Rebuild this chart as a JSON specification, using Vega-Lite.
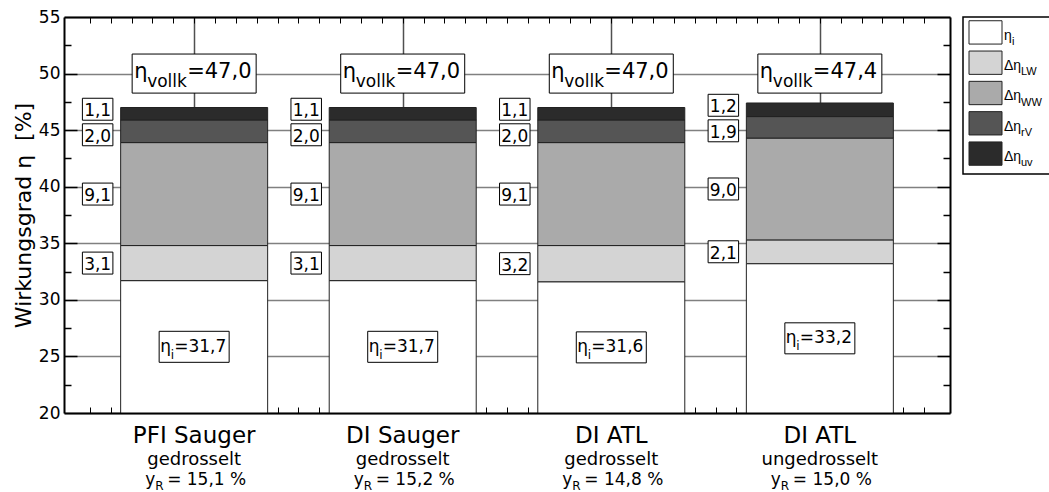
{
  "$schema": "https://vega.github.io/schema/vega-lite/v6.json",
  "background": "white",
  "padding": {"left": 12, "top": 8, "right": 0, "bottom": 0},
  "bounds": "flush",
  "spacing": 13,
  "config": {"font": "DejaVu Sans", "text": {"color": "#000"}},
  "datasets": {
    "segs": [
      {"pos": 1, "k": 1, "comp": "ηi", "value": 31.7, "lab": "31,7"},
      {"pos": 1, "k": 2, "comp": "ΔηLW", "value": 3.1, "lab": "3,1"},
      {"pos": 1, "k": 3, "comp": "ΔηWW", "value": 9.1, "lab": "9,1"},
      {"pos": 1, "k": 4, "comp": "ΔηrV", "value": 2.0, "lab": "2,0"},
      {"pos": 1, "k": 5, "comp": "Δηuv", "value": 1.1, "lab": "1,1"},
      {"pos": 2, "k": 1, "comp": "ηi", "value": 31.7, "lab": "31,7"},
      {"pos": 2, "k": 2, "comp": "ΔηLW", "value": 3.1, "lab": "3,1"},
      {"pos": 2, "k": 3, "comp": "ΔηWW", "value": 9.1, "lab": "9,1"},
      {"pos": 2, "k": 4, "comp": "ΔηrV", "value": 2.0, "lab": "2,0"},
      {"pos": 2, "k": 5, "comp": "Δηuv", "value": 1.1, "lab": "1,1"},
      {"pos": 3, "k": 1, "comp": "ηi", "value": 31.6, "lab": "31,6"},
      {"pos": 3, "k": 2, "comp": "ΔηLW", "value": 3.2, "lab": "3,2"},
      {"pos": 3, "k": 3, "comp": "ΔηWW", "value": 9.1, "lab": "9,1"},
      {"pos": 3, "k": 4, "comp": "ΔηrV", "value": 2.0, "lab": "2,0"},
      {"pos": 3, "k": 5, "comp": "Δηuv", "value": 1.1, "lab": "1,1"},
      {"pos": 4, "k": 1, "comp": "ηi", "value": 33.2, "lab": "33,2"},
      {"pos": 4, "k": 2, "comp": "ΔηLW", "value": 2.1, "lab": "2,1"},
      {"pos": 4, "k": 3, "comp": "ΔηWW", "value": 9.0, "lab": "9,0"},
      {"pos": 4, "k": 4, "comp": "ΔηrV", "value": 1.9, "lab": "1,9"},
      {"pos": 4, "k": 5, "comp": "Δηuv", "value": 1.2, "lab": "1,2"}
    ],
    "cats": [
      {"pos": 1, "name": "PFI Sauger", "sub": "gedrosselt", "yr": "15,1", "tot": "47,0"},
      {"pos": 2, "name": "DI Sauger", "sub": "gedrosselt", "yr": "15,2", "tot": "47,0"},
      {"pos": 3, "name": "DI ATL", "sub": "gedrosselt", "yr": "14,8", "tot": "47,0"},
      {"pos": 4, "name": "DI ATL", "sub": "ungedrosselt", "yr": "15,0", "tot": "47,4"}
    ],
    "leg": [
      {"k": 1, "comp": "ηi", "main": "η", "sub": "i"},
      {"k": 2, "comp": "ΔηLW", "main": "Δη", "sub": "LW"},
      {"k": 3, "comp": "ΔηWW", "main": "Δη", "sub": "WW"},
      {"k": 4, "comp": "ΔηrV", "main": "Δη", "sub": "rV"},
      {"k": 5, "comp": "Δηuv", "main": "Δη", "sub": "uv"}
    ]
  },
  "hconcat": [
    {
      "width": 886,
      "height": 396,
      "view": {"stroke": null},
      "resolve": {"axis": {"x": "independent", "y": "independent"}},
      "layer": [
        {
          "data": {"name": "segs"},
          "mark": {"type": "bar", "orient": "vertical", "width": 147, "stroke": "#222", "strokeWidth": 1, "clip": true},
          "encoding": {
            "x": {"field": "pos", "type": "quantitative", "scale": {"domain": [0.4, 4.6], "nice": false, "zero": false},
                  "axis": {"orient": "bottom", "values": [1, 2, 3, 4], "grid": true, "gridColor": "#505050", "gridWidth": 1.5, "ticks": false, "domain": false, "labels": false, "title": null, "zindex": 0}},
            "y": {"field": "value", "type": "quantitative", "stack": "zero", "scale": {"domain": [20, 55], "nice": false, "zero": false},
                  "axis": {"orient": "left", "values": [20, 25, 30, 35, 40, 45, 50, 55], "grid": true, "gridColor": "#808080", "gridWidth": 1.5, "ticks": false, "tickSize": 0, "domain": false, "labelFontSize": 17, "labelColor": "#000", "labelPadding": 4, "title": "Wirkungsgrad η\u00a0 [%]", "titleFontSize": 22, "titleFontWeight": "normal", "titleColor": "#000", "titlePadding": 3, "zindex": 0}},
            "fill": {"field": "comp", "type": "nominal", "scale": {"domain": ["ηi", "ΔηLW", "ΔηWW", "ΔηrV", "Δηuv"], "range": ["#ffffff", "#d4d4d4", "#aaaaaa", "#555555", "#2b2b2b"]}, "legend": null},
            "order": {"field": "k", "type": "quantitative"}
          }
        },
        {
          "data": {"name": "segs"},
          "transform": [
            {"stack": "value", "groupby": ["pos"], "sort": [{"field": "k", "order": "ascending"}], "as": ["lo", "hi"]},
            {"calculate": "(max(datum.lo, 20) + datum.hi) / 2", "as": "mid"},
            {"filter": "datum.k == 2 || datum.k == 3"}
          ],
          "mark": {"type": "point", "shape": "M-1,-0.72L1,-0.72L1,0.72L-1,0.72Z", "size": 930, "filled": true, "fill": "white", "stroke": "#000", "strokeWidth": 1, "opacity": 1, "xOffset": -96.5},
          "encoding": {
            "x": {"field": "pos", "type": "quantitative",
                  "axis": {"orient": "bottom", "values": [0.5,0.6,0.7,0.8,0.9,1,1.1,1.2,1.3,1.4,1.5,1.6,1.7,1.8,1.9,2,2.1,2.2,2.3,2.4,2.5,2.6,2.7,2.8,2.9,3,3.1,3.2,3.3,3.4,3.5,3.6,3.7,3.8,3.9,4,4.1,4.2,4.3,4.4,4.5], "ticks": true, "tickSize": -6, "tickColor": "#000", "tickWidth": 1, "grid": false, "domain": false, "labels": false, "title": null, "zindex": 0}},
            "y": {"field": "mid", "type": "quantitative",
                  "axis": {"orient": "left", "values": [25, 30, 35, 40, 45, 50], "ticks": true, "tickSize": -13, "tickColor": "#000", "tickWidth": 1.5, "grid": false, "domain": false, "labels": false, "title": null, "zindex": 0}}
          }
        },
        {
          "data": {"name": "segs"},
          "transform": [
            {"stack": "value", "groupby": ["pos"], "sort": [{"field": "k", "order": "ascending"}], "as": ["lo", "hi"]},
            {"calculate": "(max(datum.lo, 20) + datum.hi) / 2", "as": "mid"},
            {"filter": "datum.k == 2 || datum.k == 3"}
          ],
          "mark": {"type": "text", "align": "center", "baseline": "alphabetic", "fontSize": 17, "dy": 7, "xOffset": -96.5, "fill": "#000"},
          "encoding": {
            "x": {"field": "pos", "type": "quantitative",
                  "axis": {"orient": "top", "values": [0.5,0.6,0.7,0.8,0.9,1,1.1,1.2,1.3,1.4,1.5,1.6,1.7,1.8,1.9,2,2.1,2.2,2.3,2.4,2.5,2.6,2.7,2.8,2.9,3,3.1,3.2,3.3,3.4,3.5,3.6,3.7,3.8,3.9,4,4.1,4.2,4.3,4.4,4.5], "ticks": true, "tickSize": -6, "tickColor": "#000", "tickWidth": 1, "grid": false, "domain": true, "domainColor": "#000", "domainWidth": 2, "labels": false, "title": null, "zindex": 1}},
            "y": {"field": "mid", "type": "quantitative",
                  "axis": {"orient": "left", "values": [22.5, 27.5, 32.5, 37.5, 42.5, 47.5, 52.5], "ticks": true, "tickSize": -7, "tickColor": "#000", "tickWidth": 1.5, "grid": false, "domain": true, "domainColor": "#000", "domainWidth": 2, "labels": false, "title": null, "zindex": 1}},
            "text": {"field": "lab"}
          }
        },
        {
          "data": {"name": "segs"},
          "transform": [
            {"stack": "value", "groupby": ["pos"], "sort": [{"field": "k", "order": "ascending"}], "as": ["lo", "hi"]},
            {"calculate": "(max(datum.lo, 20) + datum.hi) / 2", "as": "mid"},
            {"filter": "datum.k == 4"}
          ],
          "mark": {"type": "point", "shape": "M-1,-0.72L1,-0.72L1,0.72L-1,0.72Z", "size": 930, "filled": true, "fill": "white", "stroke": "#000", "strokeWidth": 1, "opacity": 1, "xOffset": -96.5, "yOffset": 3.5},
          "encoding": {
            "x": {"field": "pos", "type": "quantitative",
                  "axis": {"orient": "bottom", "ticks": false, "grid": false, "domain": true, "domainColor": "#000", "domainWidth": 2, "labels": false, "title": null, "zindex": 1}},
            "y": {"field": "mid", "type": "quantitative",
                  "axis": {"orient": "right", "values": [25, 30, 35, 40, 45, 50], "ticks": true, "tickSize": -13, "tickColor": "#000", "tickWidth": 1.5, "grid": false, "domain": true, "domainColor": "#000", "domainWidth": 2, "labels": false, "title": null, "zindex": 1}}
          }
        },
        {
          "data": {"name": "segs"},
          "transform": [
            {"stack": "value", "groupby": ["pos"], "sort": [{"field": "k", "order": "ascending"}], "as": ["lo", "hi"]},
            {"calculate": "(max(datum.lo, 20) + datum.hi) / 2", "as": "mid"},
            {"filter": "datum.k == 4"}
          ],
          "mark": {"type": "text", "align": "center", "baseline": "alphabetic", "fontSize": 17, "dy": 7, "xOffset": -96.5, "yOffset": 3.5, "fill": "#000"},
          "encoding": {
            "x": {"field": "pos", "type": "quantitative", "axis": null},
            "y": {"field": "mid", "type": "quantitative",
                  "axis": {"orient": "right", "values": [22.5, 27.5, 32.5, 37.5, 42.5, 47.5, 52.5], "ticks": true, "tickSize": -7, "tickColor": "#000", "tickWidth": 1.5, "grid": false, "domain": false, "labels": false, "title": null, "zindex": 1}},
            "text": {"field": "lab"}
          }
        },
        {
          "data": {"name": "segs"},
          "transform": [
            {"stack": "value", "groupby": ["pos"], "sort": [{"field": "k", "order": "ascending"}], "as": ["lo", "hi"]},
            {"calculate": "(max(datum.lo, 20) + datum.hi) / 2", "as": "mid"},
            {"filter": "datum.k == 5"}
          ],
          "mark": {"type": "point", "shape": "M-1,-0.72L1,-0.72L1,0.72L-1,0.72Z", "size": 930, "filled": true, "fill": "white", "stroke": "#000", "strokeWidth": 1, "opacity": 1, "xOffset": -96.5, "yOffset": -4.5},
          "encoding": {
            "x": {"field": "pos", "type": "quantitative", "axis": null},
            "y": {"field": "mid", "type": "quantitative", "axis": null}
          }
        },
        {
          "data": {"name": "segs"},
          "transform": [
            {"stack": "value", "groupby": ["pos"], "sort": [{"field": "k", "order": "ascending"}], "as": ["lo", "hi"]},
            {"calculate": "(max(datum.lo, 20) + datum.hi) / 2", "as": "mid"},
            {"filter": "datum.k == 5"}
          ],
          "mark": {"type": "text", "align": "center", "baseline": "alphabetic", "fontSize": 17, "dy": 7, "xOffset": -96.5, "yOffset": -4.5, "fill": "#000"},
          "encoding": {
            "x": {"field": "pos", "type": "quantitative", "axis": null},
            "y": {"field": "mid", "type": "quantitative", "axis": null},
            "text": {"field": "lab"}
          }
        },
        {
          "data": {"name": "segs"},
          "transform": [
            {"stack": "value", "groupby": ["pos"], "sort": [{"field": "k", "order": "ascending"}], "as": ["lo", "hi"]},
            {"calculate": "(max(datum.lo, 20) + datum.hi) / 2", "as": "mid"},
            {"filter": "datum.k == 1"}
          ],
          "mark": {"type": "point", "shape": "M-1,-0.443L1,-0.443L1,0.443L-1,0.443Z", "size": 4900, "filled": true, "fill": "white", "stroke": "#000", "strokeWidth": 1, "opacity": 1},
          "encoding": {
            "x": {"field": "pos", "type": "quantitative", "axis": null},
            "y": {"field": "mid", "type": "quantitative", "axis": null}
          }
        },
        {
          "data": {"name": "segs"},
          "transform": [
            {"stack": "value", "groupby": ["pos"], "sort": [{"field": "k", "order": "ascending"}], "as": ["lo", "hi"]},
            {"calculate": "(max(datum.lo, 20) + datum.hi) / 2", "as": "mid"},
            {"filter": "datum.k == 1"}
          ],
          "mark": {"type": "text", "align": "left", "baseline": "alphabetic", "fontSize": 17, "dx": -34, "dy": 4.8, "fill": "#000"},
          "encoding": {
            "x": {"field": "pos", "type": "quantitative", "axis": null},
            "y": {"field": "mid", "type": "quantitative", "axis": null},
            "text": {"value": "η"}
          }
        },
        {
          "data": {"name": "segs"},
          "transform": [
            {"stack": "value", "groupby": ["pos"], "sort": [{"field": "k", "order": "ascending"}], "as": ["lo", "hi"]},
            {"calculate": "(max(datum.lo, 20) + datum.hi) / 2", "as": "mid"},
            {"filter": "datum.k == 1"}
          ],
          "mark": {"type": "text", "align": "left", "baseline": "alphabetic", "fontSize": 12, "dx": -23.5, "dy": 12, "fill": "#000"},
          "encoding": {
            "x": {"field": "pos", "type": "quantitative", "axis": null},
            "y": {"field": "mid", "type": "quantitative", "axis": null},
            "text": {"value": "i"}
          }
        },
        {
          "data": {"name": "segs"},
          "transform": [
            {"stack": "value", "groupby": ["pos"], "sort": [{"field": "k", "order": "ascending"}], "as": ["lo", "hi"]},
            {"calculate": "(max(datum.lo, 20) + datum.hi) / 2", "as": "mid"},
            {"filter": "datum.k == 1"},
            {"calculate": "'=' + datum.lab", "as": "eq"}
          ],
          "mark": {"type": "text", "align": "left", "baseline": "alphabetic", "fontSize": 17, "dx": -20, "dy": 4.8, "fill": "#000"},
          "encoding": {
            "x": {"field": "pos", "type": "quantitative", "axis": null},
            "y": {"field": "mid", "type": "quantitative", "axis": null},
            "text": {"field": "eq"}
          }
        },
        {
          "data": {"name": "cats"},
          "mark": {"type": "point", "shape": "M-1,-0.315L1,-0.315L1,0.315L-1,0.315Z", "size": 15376, "filled": true, "fill": "white", "stroke": "#000", "strokeWidth": 1, "opacity": 1},
          "encoding": {
            "x": {"field": "pos", "type": "quantitative", "axis": null},
            "y": {"datum": 50, "type": "quantitative", "axis": null}
          }
        },
        {
          "data": {"name": "cats"},
          "mark": {"type": "text", "align": "left", "baseline": "alphabetic", "fontSize": 21, "dx": -60, "dy": 4.5, "fill": "#000"},
          "encoding": {
            "x": {"field": "pos", "type": "quantitative", "axis": null},
            "y": {"datum": 50, "type": "quantitative", "axis": null},
            "text": {"value": "η"}
          }
        },
        {
          "data": {"name": "cats"},
          "mark": {"type": "text", "align": "left", "baseline": "alphabetic", "fontSize": 17, "dx": -47, "dy": 13.5, "fill": "#000"},
          "encoding": {
            "x": {"field": "pos", "type": "quantitative", "axis": null},
            "y": {"datum": 50, "type": "quantitative", "axis": null},
            "text": {"value": "vollk"}
          }
        },
        {
          "data": {"name": "cats"},
          "transform": [{"calculate": "'=' + datum.tot", "as": "eq"}],
          "mark": {"type": "text", "align": "left", "baseline": "alphabetic", "fontSize": 21, "dx": -7, "dy": 4.5, "fill": "#000"},
          "encoding": {
            "x": {"field": "pos", "type": "quantitative", "axis": null},
            "y": {"datum": 50, "type": "quantitative", "axis": null},
            "text": {"field": "eq"}
          }
        },
        {
          "data": {"name": "cats"},
          "mark": {"type": "text", "align": "center", "baseline": "alphabetic", "fontSize": 23, "dy": 30, "fill": "#000"},
          "encoding": {
            "x": {"field": "pos", "type": "quantitative", "axis": null},
            "y": {"datum": 20, "type": "quantitative", "axis": null},
            "text": {"field": "name"}
          }
        },
        {
          "data": {"name": "cats"},
          "mark": {"type": "text", "align": "center", "baseline": "alphabetic", "fontSize": 18, "dy": 52, "fill": "#000"},
          "encoding": {
            "x": {"field": "pos", "type": "quantitative", "axis": null},
            "y": {"datum": 20, "type": "quantitative", "axis": null},
            "text": {"field": "sub"}
          }
        },
        {
          "data": {"name": "cats"},
          "mark": {"type": "text", "align": "left", "baseline": "alphabetic", "fontSize": 17, "dx": -49, "dy": 72, "fill": "#000"},
          "encoding": {
            "x": {"field": "pos", "type": "quantitative", "axis": null},
            "y": {"datum": 20, "type": "quantitative", "axis": null},
            "text": {"value": "y"}
          }
        },
        {
          "data": {"name": "cats"},
          "mark": {"type": "text", "align": "left", "baseline": "alphabetic", "fontSize": 12, "dx": -39, "dy": 76.5, "fill": "#000"},
          "encoding": {
            "x": {"field": "pos", "type": "quantitative", "axis": null},
            "y": {"datum": 20, "type": "quantitative", "axis": null},
            "text": {"value": "R"}
          }
        },
        {
          "data": {"name": "cats"},
          "transform": [{"calculate": "'= ' + datum.yr + ' %'", "as": "yrt"}],
          "mark": {"type": "text", "align": "left", "baseline": "alphabetic", "fontSize": 17, "dx": -27, "dy": 72, "fill": "#000"},
          "encoding": {
            "x": {"field": "pos", "type": "quantitative", "axis": null},
            "y": {"datum": 20, "type": "quantitative", "axis": null},
            "text": {"field": "yrt"}
          }
        }
      ]
    },
    {
      "width": 88,
      "height": 157,
      "view": {"stroke": "#000", "strokeWidth": 1.5},
      "data": {"name": "leg"},
      "encoding": {
        "y": {"field": "comp", "type": "nominal", "scale": {"domain": ["ηi", "ΔηLW", "ΔηWW", "ΔηrV", "Δηuv"], "paddingInner": 0.23, "paddingOuter": 0.206, "align": 0.3}, "axis": null}
      },
      "layer": [
        {
          "mark": {"type": "bar", "stroke": "#222", "strokeWidth": 1},
          "encoding": {
            "x": {"value": 6},
            "x2": {"value": 39},
            "fill": {"field": "comp", "type": "nominal", "scale": {"domain": ["ηi", "ΔηLW", "ΔηWW", "ΔηrV", "Δηuv"], "range": ["#ffffff", "#d4d4d4", "#aaaaaa", "#555555", "#2b2b2b"]}, "legend": null}
          }
        },
        {
          "mark": {"type": "text", "align": "left", "baseline": "alphabetic", "font": "Liberation Sans", "fontSize": 14, "dy": 7.4, "fill": "#000"},
          "encoding": {"x": {"value": 41}, "text": {"field": "main"}}
        },
        {
          "transform": [{"filter": "datum.k == 1"}],
          "mark": {"type": "text", "align": "left", "baseline": "alphabetic", "font": "Liberation Sans", "fontSize": 11, "dx": 8, "dy": 12.7, "fill": "#000"},
          "encoding": {"x": {"value": 41}, "text": {"field": "sub"}}
        },
        {
          "transform": [{"filter": "datum.k > 1"}],
          "mark": {"type": "text", "align": "left", "baseline": "alphabetic", "font": "Liberation Sans", "fontSize": 11, "dx": 17, "dy": 12.7, "fill": "#000"},
          "encoding": {"x": {"value": 41}, "text": {"field": "sub"}}
        }
      ]
    }
  ]
}
